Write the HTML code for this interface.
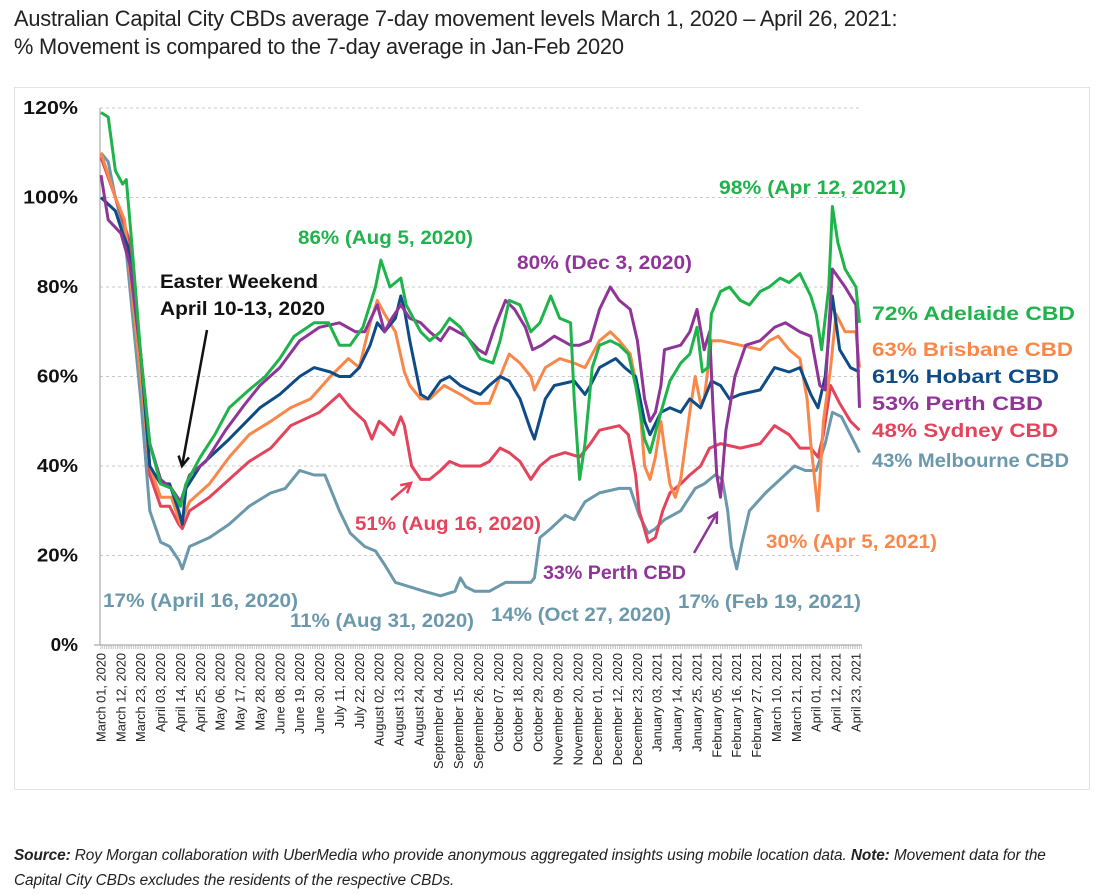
<!DOCTYPE html>
<html><head><meta charset="utf-8"><style>
body{margin:0;background:#fff;width:1100px;height:895px;overflow:hidden;font-family:"Liberation Sans",sans-serif;}
#title{position:absolute;left:14px;top:5px;font-size:21.8px;line-height:28px;color:#222;letter-spacing:-0.2px;white-space:nowrap}
#src{position:absolute;left:14px;top:843px;font-size:15.4px;line-height:25px;color:#222;font-style:italic;white-space:nowrap;letter-spacing:-0.1px}
svg{position:absolute;left:0;top:0}
</style></head><body>
<div id="title">Australian Capital City CBDs average 7-day movement levels March 1, 2020 – April 26, 2021:<br>% Movement is compared to the 7-day average in Jan-Feb 2020</div>
<svg id="chart" width="1100" height="895"></svg>
<div id="src"><b>Source:</b> Roy Morgan collaboration with UberMedia who provide anonymous aggregated insights using mobile location data. <b>Note:</b> Movement data for the<br>Capital City CBDs excludes the residents of the respective CBDs.</div>
<script>
const yTicks=[0,20,40,60,80,100,120];
const xTickLabels=["March 01, 2020","March 12, 2020","March 23, 2020","April 03, 2020","April 14, 2020","April 25, 2020","May 06, 2020","May 17, 2020","May 28, 2020","June 08, 2020","June 19, 2020","June 30, 2020","July 11, 2020","July 22, 2020","August 02, 2020","August 13, 2020","August 24, 2020","September 04, 2020","September 15, 2020","September 26, 2020","October 07, 2020","October 18, 2020","October 29, 2020","November 09, 2020","November 20, 2020","December 01, 2020","December 12, 2020","December 23, 2020","January 03, 2021","January 14, 2021","January 25, 2021","February 05, 2021","February 16, 2021","February 27, 2021","March 10, 2021","March 21, 2021","April 01, 2021","April 12, 2021","April 23, 2021"];
const adelaideDays=[0,4,8,12,14,17,22,27,33,39,44,47,55,63,71,82,91,99,107,118,126,132,138,145,152,155,160,166,169,177,182,188,193,199,204,210,217,221,226,232,238,243,249,254,260,262,265,268,272,276,282,287,292,296,301,304,310,315,321,326,330,333,336,338,343,348,354,359,365,370,376,381,387,393,396,399,403,405,408,412,418,420];
const adelaideVals=[119,118,106,103,104,90,65,45,36,35,31,36,42,47,53,57,60,64,69,72,72,67,67,71,80,86,80,82,76,70,68,70,73,71,68,64,63,68,77,76,70,72,78,73,72,55,37,45,62,67,68,67,65,58,46,43,52,59,63,65,71,61,62,74,79,80,77,76,79,80,82,81,83,78,74,66,80,98,90,84,80,72];
const brisbaneDays=[0,8,13,22,27,33,39,44,49,60,71,82,94,105,116,127,137,143,149,153,157,163,168,171,177,182,190,199,207,215,221,226,232,238,240,246,254,262,268,276,282,287,293,298,301,304,307,310,312,315,318,321,326,329,332,334,338,343,354,365,370,375,381,387,391,393,397,400,404,407,412,418,420];
const brisbaneVals=[110,100,95,60,40,33,33,27,32,36,42,47,50,53,55,60,64,62,72,77,74,70,61,58,55,55,58,56,54,54,60,65,63,60,57,62,64,63,62,68,70,68,65,55,40,37,42,50,44,36,33,37,52,60,54,55,68,68,67,66,68,69,66,64,55,45,30,50,62,74,70,70,62];
const hobartDays=[0,8,12,15,22,27,33,38,43,45,47,55,71,88,99,110,118,127,132,138,143,149,153,157,163,166,168,171,177,181,188,193,199,204,210,215,221,226,232,238,240,246,251,262,268,271,276,285,290,296,301,304,310,315,321,326,332,338,343,348,354,365,373,381,387,393,397,401,405,409,415,420];
const hobartVals=[100,97,92,89,65,40,36,36,30,27,35,40,46,53,56,60,62,61,60,60,62,67,72,70,73,78,75,68,56,55,59,60,58,57,56,58,60,59,55,48,46,55,58,59,56,58,62,64,62,60,50,47,52,53,52,55,53,59,58,55,56,57,62,61,62,56,53,60,78,66,62,61];
const perthDays=[0,4,11,16,22,27,33,39,44,49,58,69,80,88,99,110,121,132,141,146,153,157,161,166,171,177,182,188,193,202,209,213,218,224,229,235,239,244,251,260,265,271,276,282,287,293,297,301,304,307,310,312,321,326,330,334,337,339,341,343,346,351,357,365,373,379,387,393,398,401,405,412,418,420];
const perthVals=[105,95,92,85,65,45,37,35,32,38,41,48,54,58,62,68,71,72,70,70,76,70,73,76,73,72,70,68,71,69,66,65,71,77,75,71,66,67,69,67,67,68,75,80,77,75,68,55,50,52,58,66,67,70,75,66,70,52,38,33,48,60,67,68,71,72,70,69,58,57,84,80,76,53];
const sydneyDays=[0,8,16,22,27,33,38,43,45,49,60,71,82,94,105,121,132,138,146,150,154,157,162,166,168,172,177,182,188,193,199,204,210,215,221,226,232,238,243,249,257,265,271,276,287,292,296,298,303,307,311,315,321,326,332,337,343,354,365,373,381,387,393,397,400,404,409,415,420];
const sydneyVals=[109,100,90,65,38,31,31,27,26,30,33,37,41,44,49,52,56,53,50,46,50,49,47,51,49,40,37,37,39,41,40,40,40,41,44,43,41,37,40,42,43,42,45,48,49,47,38,30,23,24,30,34,36,38,40,44,45,44,45,49,47,44,44,42,47,58,54,50,48];
const melbourneDays=[0,4,8,13,22,27,33,38,43,45,49,60,71,82,94,102,110,118,124,132,138,146,152,157,163,171,179,188,196,199,202,207,215,224,232,238,240,243,249,257,262,268,276,287,293,298,303,307,312,321,329,334,340,344,347,349,352,355,359,368,376,384,390,396,401,405,410,415,420];
const melbourneVals=[110,108,100,92,55,30,23,22,19,17,22,24,27,31,34,35,39,38,38,30,25,22,21,18,14,13,12,11,12,15,13,12,12,14,14,14,15,24,26,29,28,32,34,35,35,29,25,26,28,30,35,36,38,37,30,22,17,23,30,34,37,40,39,39,45,52,51,47,43];

const NS="http://www.w3.org/2000/svg";
const svg=document.getElementById('chart');
const X0=101,PXD=1.806,Y0=645,PXV=4.475;
const xS=d=>X0+d*PXD;
const yS=v=>Y0-v*PXV;
function mk(tag,attrs,parent){const e=document.createElementNS(NS,tag);for(const k in attrs)e.setAttribute(k,attrs[k]);(parent||svg).appendChild(e);return e;}

const frame=mk('rect',{x:14.5,y:87.5,width:1075,height:702,fill:'none',stroke:'#e3e3e3'});



yTicks.forEach(v=>{
  if(v>0){const g=mk('line',{x1:100,x2:862,y1:yS(v),y2:yS(v),stroke:'#c8c8c8','stroke-dasharray':'3,3'});
  
  }
  const s=String(v)+'%';
  const t=mk('text',{x:78,y:yS(v)+6,'text-anchor':'end','font-size':18,'font-weight':'bold',fill:'#111',textLength:s.length*13.7,lengthAdjust:'spacingAndGlyphs'});
  t.textContent=s;
  
  
});
const ya=mk('line',{x1:100,x2:100,y1:yS(120),y2:Y0,stroke:'#999'});


const xa=mk('line',{x1:94,x2:862,y1:Y0,y2:Y0,stroke:'#999'});


let p='';for(let d=0;d<=421;d++){p+='M'+xS(d).toFixed(1)+' '+Y0+'v4';}
const ticks=mk('path',{d:p,stroke:'#aaa','stroke-width':0.6});


xTickLabels.forEach((l,i)=>{
  const x=xS(i*11)+4.5;
  const t=mk('text',{x:x,y:653,'text-anchor':'end','font-size':12.8,fill:'#222',transform:`rotate(-90 ${x} 653)`});
  t.textContent=l;
  
  
});

const series=[
 ['melbourne',melbourneDays,melbourneVals,'#6b98ab'],
 ['sydney',sydneyDays,sydneyVals,'#e4435c'],
 ['brisbane',brisbaneDays,brisbaneVals,'#f9874a'],
 ['hobart',hobartDays,hobartVals,'#0f4c86'],
 ['perth',perthDays,perthVals,'#8f3597'],
 ['adelaide',adelaideDays,adelaideVals,'#1fb34b']];
series.forEach(s=>{
  const pts=s[1].map((d,i)=>xS(d).toFixed(1)+','+yS(s[2][i]).toFixed(1)).join(' ');
  const l=mk('polyline',{points:pts,fill:'none',stroke:s[3],'stroke-width':3,'stroke-linejoin':'round'});
  
  
});

function label(txt,x,y,col,name,w){
  const t=mk('text',{x:x,y:y,'font-size':19,'font-weight':'bold',fill:col,textLength:w,lengthAdjust:'spacingAndGlyphs'});
  t.textContent=txt;
  
  
}
label('98% (Apr 12, 2021)',719,194,'#1fb34b','peak-label-adelaide',187);
label('86% (Aug 5, 2020)',298,244,'#1fb34b','aug5-label',175);
label('80% (Dec 3, 2020)',517,269,'#8f3597','dec3-label',175);
label('Easter Weekend',160,288,'#111','easter-label-line1',158);
label('April 10-13, 2020',160,315,'#111','easter-label-line2',165);
label('72% Adelaide CBD',872,320,'#1fb34b','legend-adelaide',203);
label('63% Brisbane CBD',872,356,'#f9874a','legend-brisbane',201);
label('61% Hobart CBD',872,383,'#0f4c86','legend-hobart',187);
label('53% Perth CBD',872,410,'#8f3597','legend-perth',171);
label('48% Sydney CBD',872,437,'#e4435c','legend-sydney',186);
label('43% Melbourne CBD',872,467,'#6b98ab','legend-melbourne',197);
label('51% (Aug 16, 2020)',355,530,'#e4435c','aug16-label',186);
label('17% (April 16, 2020)',103,607,'#6b98ab','apr16-label',195);
label('11% (Aug 31, 2020)',290,627,'#6b98ab','aug31-label',184);
label('14% (Oct 27, 2020)',491,621,'#6b98ab','oct27-label',180);
label('33% Perth CBD',543,579,'#8f3597','perth-dip-label',143);
label('30% (Apr 5, 2021)',766,548,'#f9874a','apr5-label',171);
label('17% (Feb 19, 2021)',678,608,'#6b98ab','feb19-label',183);

function arrow(x1,y1,x2,y2,col,name){
  const g=mk('g',{});
  
  
  mk('line',{x1:x1,y1:y1,x2:x2,y2:y2,stroke:col,'stroke-width':2.5},g);
  const a=Math.atan2(y2-y1,x2-x1),L=11,w=0.5;
  const pts=[[x2,y2],[x2-L*Math.cos(a-w),y2-L*Math.sin(a-w)],[x2-L*Math.cos(a+w),y2-L*Math.sin(a+w)]];
  mk('polyline',{points:pts[1]+' '+pts[0]+' '+pts[2],fill:'none',stroke:col,'stroke-width':2.5},g);
}
arrow(207,330,182,466,'#111','easter-arrow');
arrow(391,500,411,483,'#e4435c','aug16-arrow');
arrow(694,553,717,513,'#8f3597','perth-arrow');
</script>
</body></html>
